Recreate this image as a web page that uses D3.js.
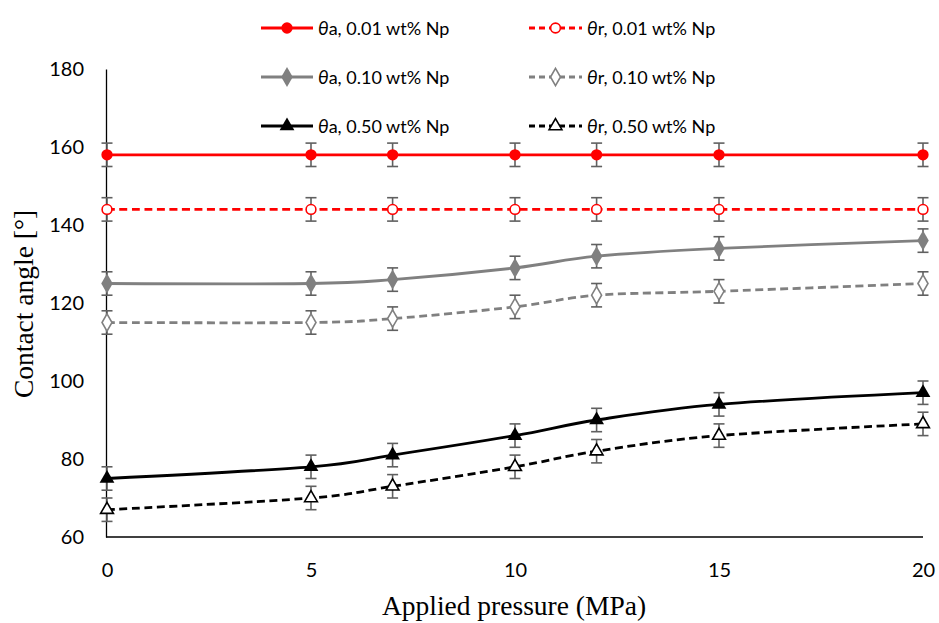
<!DOCTYPE html>
<html>
<head>
<meta charset="utf-8">
<script src="https://cdn.jsdelivr.net/npm/d3@7"></script>
<style>
  html, body { margin: 0; padding: 0; background: #fff; }
  svg { display: block; }
</style>
</head>
<body>
<svg id="chart" width="939" height="623"></svg>
<script>
// Applied pressure (MPa) at each measurement
const pressures = [0, 5, 7, 10, 12, 15, 20];

// Advancing / receding contact angles (degrees) per nanoparticle loading
const thetaA_001 = [158, 158, 158, 158, 158, 158, 158];
const thetaR_001 = [144, 144, 144, 144, 144, 144, 144];
const thetaA_010 = [125, 125, 126, 129, 132, 134, 136];
const thetaR_010 = [115, 115, 116, 119, 122, 123, 125];
const thetaA_050 = [75, 78, 81, 86, 90, 94, 97];
const thetaR_050 = [67, 70, 73, 78, 82, 86, 89];

// Symmetric error of each measurement (degrees)
const errorDeg = 3;

const xTicks = [0, 5, 10, 15, 20];
const yTicks = [60, 80, 100, 120, 140, 160, 180];

const seriesNames = [
  "a, 0.01 wt% Np", "r, 0.01 wt% Np",
  "a, 0.10 wt% Np", "r, 0.10 wt% Np",
  "a, 0.50 wt% Np", "r, 0.50 wt% Np"
];

const series = [
  { name: seriesNames[0], values: thetaA_001, color: "#ff0000", dashed: false, shape: "circle",   filled: true },
  { name: seriesNames[1], values: thetaR_001, color: "#ff0000", dashed: true,  shape: "circle",   filled: false },
  { name: seriesNames[2], values: thetaA_010, color: "#808080", dashed: false, shape: "diamond",  filled: true },
  { name: seriesNames[3], values: thetaR_010, color: "#808080", dashed: true,  shape: "diamond",  filled: false },
  { name: seriesNames[4], values: thetaA_050, color: "#000000", dashed: false, shape: "triangle", filled: true },
  { name: seriesNames[5], values: thetaR_050, color: "#000000", dashed: true,  shape: "triangle", filled: false }
];

const svg = d3.select("#chart");
const plot = { left: 107, right: 923, top: 69, bottom: 537 };

const x = d3.scaleLinear().domain([0, 20]).range([plot.left, plot.right]);
const y = d3.scaleLinear().domain([60, 180]).range([plot.bottom, plot.top]);

const sansFont = "Lato, 'Noto Sans', sans-serif";
const serifFont = "'Liberation Serif', 'Times New Roman', serif";

// Axes
const xAxis = svg.append("g")
  .attr("transform", `translate(0,${plot.bottom})`)
  .call(d3.axisBottom(x).tickValues(xTicks).tickSize(0).tickPadding(26));
xAxis.select(".domain").attr("stroke", "#000").attr("stroke-width", 1.5)
  .attr("d", `M${plot.left - 1},0H${plot.right}`);
xAxis.selectAll("text").attr("font-family", sansFont).attr("font-size", 20).attr("fill", "#000");

const yAxis = svg.append("g")
  .attr("transform", `translate(${plot.left - 1},0)`)
  .call(d3.axisLeft(y).tickValues(yTicks).tickSize(0).tickPadding(22));
yAxis.select(".domain").attr("stroke", "#000").attr("stroke-width", 1.3);
yAxis.selectAll("text").attr("font-family", sansFont).attr("font-size", 20).attr("fill", "#000");

// Axis titles
svg.append("text")
  .attr("x", 514).attr("y", 615)
  .attr("text-anchor", "middle")
  .attr("font-family", serifFont).attr("font-size", 27.5)
  .text("Applied pressure (MPa)");

svg.append("text")
  .attr("transform", "translate(33,304) rotate(-90)")
  .attr("text-anchor", "middle")
  .attr("font-family", serifFont).attr("font-size", 27.5)
  .text("Contact angle [°]");

// Marker drawing
const markerSize = { circle: 100, diamond: 115, triangle: 95 };
function markerPath(shape, open) {
  const type = shape === "circle" ? d3.symbolCircle : shape === "diamond" ? d3.symbolDiamond : d3.symbolTriangle;
  let size = markerSize[shape];
  if (open) size *= 0.75;
  return d3.symbol().type(type).size(size)();
}

function drawMarker(g, s, cx, cy) {
  g.append("path")
    .attr("d", markerPath(s.shape, !s.filled))
    .attr("transform", `translate(${cx},${cy})`)
    .attr("fill", s.filled ? s.color : "#fff")
    .attr("stroke", s.color)
    .attr("stroke-width", s.filled ? 0 : 1.6);
}

// Error bars
const errG = svg.append("g");
series.forEach(s => {
  s.values.forEach((v, i) => {
    const cx = x(pressures[i]);
    const y1 = y(v + errorDeg), y2 = y(v - errorDeg);
    errG.append("line").attr("x1", cx).attr("x2", cx).attr("y1", y1).attr("y2", y2)
      .attr("stroke", "#606060").attr("stroke-width", 1.6);
    [y1, y2].forEach(yy => errG.append("line")
      .attr("x1", cx - 5.5).attr("x2", cx + 5.5).attr("y1", yy).attr("y2", yy)
      .attr("stroke", "#606060").attr("stroke-width", 1.6));
  });
});

// Smoothed series lines
const line = d3.line()
  .x((d, i) => x(pressures[i]))
  .y(d => y(d))
  .curve(d3.curveCatmullRom.alpha(0));

const lineG = svg.append("g");
series.forEach(s => {
  lineG.append("path")
    .datum(s.values)
    .attr("d", line)
    .attr("fill", "none")
    .attr("stroke", s.color)
    .attr("stroke-width", 2.8)
    .attr("stroke-dasharray", s.dashed ? "8,4.5" : null);
});

// Markers
const markG = svg.append("g");
series.forEach(s => {
  s.values.forEach((v, i) => drawMarker(markG, s, x(pressures[i]), y(v)));
});

// Legend
const legendCols = [{ x0: 261, x1: 313, tx: 318 }, { x0: 529, x1: 582, tx: 587 }];
const legendRows = [28, 77, 126];
series.forEach((s, k) => {
  const col = legendCols[k % 2];
  const ly = legendRows[Math.floor(k / 2)];
  const g = svg.append("g");
  g.append("line")
    .attr("x1", col.x0).attr("x2", col.x1).attr("y1", ly).attr("y2", ly)
    .attr("stroke", s.color).attr("stroke-width", 2.8)
    .attr("stroke-dasharray", s.dashed ? "6,4" : null);
  drawMarker(g, s, (col.x0 + col.x1) / 2, ly);
  const t = g.append("text")
    .attr("x", col.tx).attr("y", ly + 6.5)
    .attr("font-family", sansFont).attr("font-size", 18).attr("fill", "#000");
  t.append("tspan").attr("font-style", "italic").attr("font-size", 19).text("θ");
  t.append("tspan").text(s.name);
});
</script>
</body>
</html>
